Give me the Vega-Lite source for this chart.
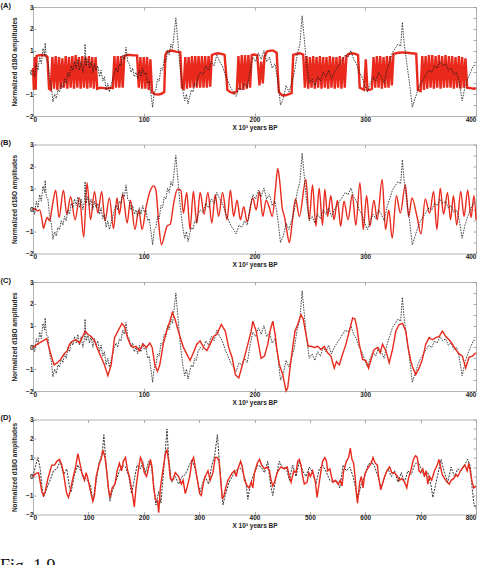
{
  "$schema": "https://vega.github.io/schema/vega-lite/v6.json",
  "padding": {"left": 0, "top": 1, "right": 8, "bottom": 0},
  "config": {
    "font": "Liberation Sans",
    "view": {"stroke": "#b4b4b4", "strokeWidth": 1},
    "axis": {
      "labelFont": "Liberation Sans", "labelFontSize": 6.5, "labelFontWeight": "bold", "labelColor": "#222",
      "titleFont": "Liberation Sans", "titleFontSize": 6.5, "titleFontWeight": "bold", "titleColor": "#222",
      "grid": false, "domain": false, "tickColor": "#999", "tickWidth": 0.8, "tickSize": -3, "labelPadding": 3
    },
    "axisBottom": {"titlePadding": 1.5},
    "axisLeft": {"titlePadding": 8.5},
    "title": {"font": "Liberation Sans", "fontSize": 7.5, "fontWeight": "bold", "anchor": "start", "frame": "bounds", "offset": -5, "dx": -10.5, "color": "#111"},
    "concat": {"spacing": 7.5}
  },
  "datasets": {
    "blk": [
      {"t":0,"v":0.1},{"t":1.5,"v":-0.2},{"t":3,"v":0.4},{"t":4.5,"v":0.1},{"t":6,"v":0.7},{"t":7.5,"v":0.4},{"t":9,"v":1.1},{"t":10.5,"v":0.8},{"t":11,"v":1.35},{"t":12,"v":0.6},{"t":13.5,"v":0.5},{"t":15,"v":-0.3},{"t":16.5,"v":-0.6},{"t":18,"v":-1.35},{"t":19.5,"v":-1.0},{"t":21,"v":-1.2},{"t":22.5,"v":-0.8},{"t":24,"v":-0.9},{"t":25.5,"v":-0.5},{"t":27,"v":-0.7},{"t":28.5,"v":-0.3},{"t":30,"v":-0.5},{"t":31.5,"v":0.0},{"t":33,"v":-0.2},{"t":34.5,"v":0.3},{"t":36,"v":0.1},{"t":37.5,"v":0.5},{"t":39,"v":0.2},{"t":40.5,"v":0.6},{"t":42,"v":0.1},{"t":43.5,"v":0.5},{"t":45,"v":0.0},{"t":46.5,"v":0.4},{"t":47,"v":1.3},{"t":48,"v":0.3},{"t":49.5,"v":0.6},{"t":51,"v":0.2},{"t":52.5,"v":0.5},{"t":54,"v":0.0},{"t":55.5,"v":0.4},{"t":57,"v":0.1},{"t":58.5,"v":0.3},{"t":60,"v":-0.2},{"t":61.5,"v":0.1},{"t":63,"v":-0.4},{"t":64.5,"v":-0.2},{"t":66,"v":-0.8},{"t":67.5,"v":-0.5},{"t":69,"v":-0.9},{"t":70.5,"v":-0.6},{"t":72,"v":-0.3},{"t":73.5,"v":0.0},{"t":75,"v":0.2},{"t":76.5,"v":0.0},{"t":78,"v":0.4},{"t":79.5,"v":0.3},{"t":81,"v":0.8},{"t":82.5,"v":0.6},{"t":84,"v":1.15},{"t":85.5,"v":0.5},{"t":87,"v":0.4},{"t":88.5,"v":0.0},{"t":90,"v":0.2},{"t":91.5,"v":-0.2},{"t":93,"v":0.0},{"t":94.5,"v":-0.3},{"t":96,"v":0.1},{"t":97.5,"v":-0.2},{"t":99,"v":0.2},{"t":100.5,"v":-0.1},{"t":102,"v":0.0},{"t":103.5,"v":-0.5},{"t":105,"v":-0.4},{"t":106.5,"v":-1.0},{"t":108,"v":-1.6},{"t":109.5,"v":-0.9},{"t":111,"v":-0.8},{"t":112.5,"v":-0.3},{"t":114,"v":-0.4},{"t":115.5,"v":0.2},{"t":117,"v":0.1},{"t":118.5,"v":0.6},{"t":120,"v":0.5},{"t":121.5,"v":1.0},{"t":123,"v":0.8},{"t":124.5,"v":1.3},{"t":126,"v":1.1},{"t":127.5,"v":1.8},{"t":129,"v":2.5},{"t":130,"v":1.9},{"t":131,"v":1.3},{"t":132.5,"v":0.4},{"t":134,"v":-0.3},{"t":135.5,"v":-0.9},{"t":137,"v":-1.3},{"t":138.5,"v":-1.0},{"t":140,"v":-1.45},{"t":141.5,"v":-1.1},{"t":143,"v":-0.8},{"t":144.5,"v":-0.9},{"t":146,"v":-0.5},{"t":147.5,"v":-0.6},{"t":149,"v":-0.2},
      {"t":151,"v":0.0},{"t":153.5,"v":-0.1},{"t":156,"v":0.3},{"t":158.5,"v":0.1},{"t":161,"v":0.5},{"t":163.5,"v":0.3},{"t":166,"v":0.8},{"t":168.5,"v":0.5},{"t":171,"v":0.3},{"t":173.5,"v":-0.1},{"t":176,"v":-0.4},{"t":178.5,"v":-0.7},{"t":181,"v":-0.9},{"t":183.5,"v":-1.1},{"t":186,"v":-0.7},{"t":188.5,"v":-0.8},{"t":191,"v":-0.5},{"t":193.5,"v":-0.7},{"t":196,"v":0.1},{"t":198.5,"v":0.7},{"t":201,"v":0.5},{"t":203.5,"v":0.9},{"t":206,"v":0.6},{"t":208.5,"v":1.0},{"t":211,"v":0.5},{"t":213.5,"v":0.7},{"t":216,"v":0.2},{"t":218.5,"v":0.4},{"t":221,"v":-0.4},{"t":223.5,"v":-1.5},{"t":226,"v":-1.2},{"t":228.5,"v":-0.6},{"t":231,"v":-0.9},{"t":233.5,"v":-0.5},{"t":236,"v":0.0},{"t":238.5,"v":0.8},{"t":241,"v":1.3},{"t":243,"v":2.6},{"t":245,"v":1.5},{"t":247,"v":0.4},{"t":249.5,"v":-0.5},{"t":252,"v":-0.3},{"t":254.5,"v":-0.6},{"t":257,"v":-0.2},{"t":259.5,"v":-0.4},{"t":262,"v":0.0},{"t":264.5,"v":-0.2},{"t":267,"v":0.1},{"t":269.5,"v":-0.3},{"t":272,"v":0.0},{"t":274.5,"v":0.2},{"t":277,"v":0.4},{"t":279.5,"v":0.6},{"t":282,"v":0.8},{"t":284.5,"v":0.7},{"t":287,"v":1.0},{"t":289.5,"v":0.6},{"t":292,"v":0.4},{"t":294.5,"v":0.0},{"t":297,"v":-0.2},{"t":299.5,"v":-0.6},{"t":302,"v":-0.9},{"t":304.5,"v":-0.5},{"t":307,"v":-0.2},{"t":309.5,"v":-0.4},{"t":312,"v":0.0},{"t":314.5,"v":-0.2},{"t":317,"v":-0.5},{"t":319.5,"v":0.1},{"t":322,"v":0.5},{"t":324.5,"v":0.9},{"t":327,"v":1.1},{"t":329.5,"v":1.3},{"t":332,"v":1.2},{"t":333.5,"v":2.3},{"t":335,"v":1.4},{"t":337.5,"v":0.4},{"t":340,"v":-0.5},{"t":342.5,"v":-1.6},{"t":345,"v":-1.2},{"t":347.5,"v":-0.8},{"t":350,"v":-0.5},{"t":352.5,"v":-0.3},{"t":355,"v":-0.1},{"t":357.5,"v":0.1},{"t":360,"v":0.0},{"t":362.5,"v":0.3},{"t":365,"v":0.2},{"t":367.5,"v":0.5},{"t":370,"v":0.3},{"t":372.5,"v":0.4},{"t":375,"v":0.1},{"t":377.5,"v":0.2},{"t":380,"v":-0.1},{"t":382.5,"v":0.0},{"t":385,"v":-0.5},{"t":387.5,"v":-1.3},{"t":390,"v":-0.7},{"t":392.5,"v":-0.3},{"t":395,"v":0.0},{"t":397.5,"v":0.3},{"t":400,"v":0.35}
    ],
    "redA": [
      {"t":0,"v":0.2},{"t":0.8,"v":-0.8},{"t":1.6,"v":0.7},{"t":2.4,"v":-0.8},{"t":3.2,"v":0.75},{"t":5,"v":0.78},{"t":8,"v":0.8},{"t":11,"v":0.78},{"t":13,"v":0.72},{"t":14.5,"v":-0.75},
      {"t":16,"v":-0.8},{"t":17.5,"v":0.7},{"t":19,"v":-0.75},{"t":20.5,"v":0.75},{"t":22,"v":-0.8},{"t":23.5,"v":0.7},{"t":25,"v":-0.75},{"t":26.5,"v":0.65},{"t":28,"v":-0.7},{"t":29.5,"v":0.75},{"t":31,"v":-0.75},{"t":32.5,"v":0.7},{"t":34,"v":-0.7},{"t":35.5,"v":0.75},{"t":37,"v":-0.75},{"t":38.5,"v":0.8},{"t":40,"v":-0.7},{"t":41.5,"v":0.7},{"t":43,"v":-0.75},{"t":44.5,"v":0.75},{"t":46,"v":-0.7},{"t":47.5,"v":0.7},{"t":49,"v":-0.75},{"t":50.5,"v":0.75},{"t":52,"v":-0.7},{"t":53.5,"v":0.7},{"t":55,"v":-0.75},{"t":56.5,"v":0.7},{"t":58,"v":-0.75},
      {"t":61,"v":-0.7},{"t":64,"v":-0.72},{"t":67,"v":-0.75},{"t":70,"v":-0.7},{"t":72,"v":-0.72},
      {"t":73.5,"v":0.75},{"t":75,"v":-0.7},{"t":76.5,"v":0.75},{"t":78,"v":-0.7},{"t":79.5,"v":0.75},{"t":81,"v":-0.7},{"t":82.5,"v":0.75},
      {"t":85,"v":0.8},{"t":88,"v":0.8},{"t":91,"v":0.78},{"t":94,"v":0.78},
      {"t":95.5,"v":-0.7},{"t":97,"v":0.7},{"t":98.5,"v":-0.75},{"t":100,"v":0.7},{"t":101.5,"v":-0.75},{"t":103,"v":0.7},{"t":104.5,"v":-0.8},{"t":106,"v":0.6},{"t":107.5,"v":-0.9},
      {"t":110,"v":-1.0},{"t":113,"v":-1.02},{"t":116,"v":-0.98},{"t":118.5,"v":-0.9},
      {"t":119.5,"v":0.8},{"t":121,"v":0.95},{"t":125,"v":1.0},{"t":129,"v":0.95},{"t":133,"v":0.92},{"t":134.5,"v":-0.7},
      {"t":136,"v":-0.75},{"t":137.5,"v":0.7},{"t":139,"v":-0.75},{"t":140.5,"v":0.7},{"t":142,"v":-0.7},{"t":143.5,"v":0.75},{"t":145,"v":-0.7},{"t":146.5,"v":0.75},{"t":148,"v":-0.7},{"t":149.5,"v":0.75},{"t":151,"v":-0.7},{"t":152.5,"v":0.75},{"t":154,"v":-0.7},{"t":155.5,"v":0.75},{"t":157,"v":-0.7},{"t":158.5,"v":0.75},{"t":160,"v":-0.65},{"t":161.5,"v":0.8},
      {"t":164,"v":0.85},{"t":167,"v":0.88},{"t":170,"v":0.85},{"t":173,"v":0.8},{"t":175.5,"v":-0.8},{"t":178,"v":-0.9},{"t":181,"v":-0.95},{"t":184,"v":-0.88},
      {"t":185.5,"v":0.75},{"t":187,"v":-0.8},{"t":188.5,"v":0.8},{"t":190,"v":-0.8},{"t":191.5,"v":0.8},{"t":193,"v":-0.75},{"t":194.5,"v":0.8},{"t":196,"v":-0.7},
      {"t":197.5,"v":0.8},{"t":200,"v":0.82},{"t":202.5,"v":0.78},{"t":204.5,"v":-0.6},{"t":206,"v":0.5},{"t":207.5,"v":-0.5},{"t":209,"v":0.7},
      {"t":211,"v":0.95},{"t":214,"v":1.0},{"t":217,"v":1.0},{"t":220,"v":0.9},{"t":222,"v":-0.9},{"t":225,"v":-1.05},{"t":228,"v":-1.05},{"t":231,"v":-1.0},{"t":233.5,"v":-0.95},
      {"t":235,"v":0.8},{"t":238,"v":0.85},{"t":241,"v":0.88},{"t":244,"v":0.82},
      {"t":245.5,"v":-0.7},{"t":247,"v":0.75},{"t":248.5,"v":-0.75},{"t":250,"v":0.7},{"t":251.5,"v":-0.7},{"t":253,"v":0.75},{"t":254.5,"v":-0.75},{"t":256,"v":0.7},{"t":257.5,"v":-0.7},{"t":259,"v":0.75},{"t":260.5,"v":-0.75},{"t":262,"v":0.7},{"t":263.5,"v":-0.7},{"t":265,"v":0.7},{"t":266.5,"v":-0.75},{"t":268,"v":0.75},{"t":269.5,"v":-0.7},{"t":271,"v":0.7},{"t":272.5,"v":-0.75},{"t":274,"v":0.7},{"t":275.5,"v":-0.7},{"t":277,"v":0.75},{"t":278.5,"v":-0.75},{"t":280,"v":0.7},{"t":281.5,"v":-0.7},{"t":283,"v":0.75},
      {"t":285,"v":0.85},{"t":288,"v":0.88},{"t":291,"v":0.85},{"t":293.5,"v":0.8},
      {"t":295,"v":-0.7},{"t":297,"v":-0.75},{"t":299,"v":-0.8},{"t":300.5,"v":0.6},{"t":302,"v":-0.8},{"t":304,"v":-0.8},{"t":306,"v":-0.75},{"t":307.5,"v":0.7},{"t":309,"v":-0.7},{"t":310.5,"v":0.75},{"t":312,"v":-0.7},{"t":313.5,"v":0.75},{"t":315,"v":-0.75},{"t":316.5,"v":0.7},{"t":318,"v":-0.7},{"t":319.5,"v":0.75},{"t":321,"v":-0.7},{"t":322.5,"v":0.75},{"t":324,"v":-0.6},
      {"t":325.5,"v":0.85},{"t":330,"v":0.9},{"t":334,"v":0.92},{"t":338,"v":0.9},{"t":342,"v":0.88},{"t":346,"v":0.85},{"t":347.5,"v":-0.8},{"t":350,"v":-0.85},
      {"t":351.5,"v":0.75},{"t":353,"v":-0.8},{"t":354.5,"v":0.75},{"t":356,"v":-0.75},{"t":357.5,"v":0.8},{"t":359,"v":-0.7},{"t":360.5,"v":0.8},{"t":362,"v":-0.75},{"t":363.5,"v":0.75},{"t":365,"v":-0.7},{"t":366.5,"v":0.8},{"t":368,"v":-0.75},{"t":369.5,"v":0.75},{"t":371,"v":-0.7},{"t":372.5,"v":0.8},{"t":374,"v":-0.7},{"t":375.5,"v":0.75},{"t":377,"v":-0.7},{"t":378.5,"v":0.75},{"t":380,"v":-0.75},{"t":381.5,"v":0.7},{"t":383,"v":-0.7},{"t":384.5,"v":0.75},{"t":386,"v":-0.75},{"t":387.5,"v":0.7},{"t":389,"v":-0.7},{"t":390.5,"v":0.65},{"t":392,"v":-0.7},
      {"t":395,"v":-0.72},{"t":398,"v":-0.75},{"t":400,"v":-0.72}
    ],
    "redB": [
      {"t":0,"v":0.0},{"t":2,"v":0.05},{"t":4,"v":-0.05},{"t":6,"v":0.0},{"t":8,"v":-0.4},{"t":9.5,"v":-0.85},{"t":11,"v":-0.6},{"t":13,"v":-0.35},{"t":15,"v":-0.5},{"t":17.5,"v":0.2},{"t":20.5,"v":0.9},{"t":23.5,"v":-0.35},{"t":27.5,"v":0.9},{"t":30.5,"v":-0.2},{"t":34,"v":0.6},{"t":38,"v":-0.45},{"t":42,"v":0.55},{"t":45.8,"v":-1.25},{"t":48.8,"v":1.25},{"t":52,"v":-0.45},{"t":55.5,"v":0.85},{"t":58.5,"v":-0.15},{"t":62,"v":0.85},{"t":65,"v":-0.5},{"t":69,"v":0.55},{"t":72.7,"v":-0.85},{"t":75.8,"v":0.55},{"t":78,"v":-0.2},{"t":81,"v":0.7},{"t":85,"v":-0.6},{"t":88,"v":0.45},{"t":92,"v":-0.9},{"t":95.5,"v":0.0},{"t":98.5,"v":-0.9},{"t":102,"v":0.1},{"t":106,"v":0.9},{"t":109,"v":1.1},{"t":111,"v":0.9},{"t":113.5,"v":-0.6},{"t":116,"v":-1.6},{"t":118.5,"v":-1.2},{"t":121,"v":-0.75},{"t":124,"v":-0.65},{"t":127,"v":0.3},{"t":130.5,"v":0.95},{"t":133.5,"v":0.9},{"t":135.8,"v":-0.15},{"t":138.8,"v":0.8},{"t":141.8,"v":-0.9},{"t":144.8,"v":0.85},{"t":147.9,"v":-0.6},{"t":150.9,"v":0.8},{"t":154.5,"v":-0.2},{"t":157.9,"v":0.8},{"t":161.5,"v":-0.6},{"t":164.5,"v":0.7},{"t":167.6,"v":-0.3},{"t":171.2,"v":0.8},{"t":175.2,"v":-0.45},{"t":178.2,"v":0.9},{"t":181.2,"v":-0.3},{"t":184.2,"v":0.45},{"t":187.3,"v":-0.45},{"t":190.3,"v":0.15},{"t":193.3,"v":-0.55},{"t":198.5,"v":0.55},{"t":201.5,"v":0.0},{"t":204.5,"v":0.85},{"t":207.5,"v":-0.3},{"t":210.5,"v":0.45},{"t":213.5,"v":0.1},{"t":216,"v":-0.3},{"t":219,"v":1.0},{"t":221,"v":1.9},{"t":223,"v":1.2},{"t":225,"v":0.1},{"t":227,"v":-0.3},{"t":229,"v":-0.9},{"t":231.5,"v":-1.5},{"t":234,"v":-0.6},{"t":237,"v":0.5},{"t":240.5,"v":-0.3},{"t":246.4,"v":1.4},{"t":249.4,"v":-0.45},{"t":252.4,"v":1.15},{"t":255.4,"v":-0.75},{"t":258.4,"v":1.0},{"t":261.4,"v":-0.7},{"t":263.5,"v":0.95},{"t":266,"v":-0.3},{"t":268.9,"v":0.65},{"t":271.8,"v":-0.45},{"t":274.9,"v":0.45},{"t":277.8,"v":-0.75},{"t":280.8,"v":0.4},{"t":284.5,"v":-0.45},{"t":288.3,"v":0.7},{"t":291.5,"v":-0.7},{"t":295.2,"v":1.25},{"t":298.2,"v":-0.9},{"t":301.2,"v":0.65},{"t":304.2,"v":-0.75},{"t":307.8,"v":0.45},{"t":310.8,"v":-0.45},{"t":315.3,"v":1.4},{"t":318.3,"v":-0.9},{"t":321.3,"v":0.0},{"t":324.3,"v":-1.3},{"t":328.1,"v":0.65},{"t":331.7,"v":-0.15},{"t":336.2,"v":1.15},{"t":339.2,"v":-0.3},{"t":342.2,"v":0.55},{"t":346.7,"v":-0.3},{"t":350.3,"v":-1.1},{"t":354.2,"v":0.5},{"t":358.1,"v":-0.15},{"t":361.7,"v":0.85},{"t":364.7,"v":-0.9},{"t":367.7,"v":1.0},{"t":370.7,"v":-0.2},{"t":374.3,"v":0.8},{"t":377,"v":-0.45},{"t":379.6,"v":0.65},{"t":382.6,"v":-0.7},{"t":386.2,"v":0.85},{"t":389.2,"v":-0.3},{"t":392.5,"v":0.9},{"t":395.5,"v":-0.35},{"t":398.2,"v":0.65},{"t":400,"v":-0.45}
    ],
    "redC": [
      {"t":0,"v":0.0},{"t":5.5,"v":0.2},{"t":9,"v":0.3},{"t":12.4,"v":0.4},{"t":13.6,"v":0.15},{"t":16,"v":-0.3},{"t":19,"v":-0.8},{"t":22,"v":-0.7},{"t":25,"v":-0.55},{"t":28,"v":-0.3},{"t":31,"v":-0.15},{"t":33,"v":0.15},{"t":36,"v":0.3},{"t":39,"v":0.35},{"t":42,"v":0.2},{"t":45,"v":0.5},{"t":47,"v":0.75},{"t":49.5,"v":0.6},{"t":52.5,"v":0.5},{"t":55.5,"v":0.3},{"t":58.5,"v":-0.1},{"t":61.5,"v":-0.45},{"t":64.5,"v":-0.8},{"t":67.6,"v":-1.3},{"t":70.6,"v":-0.8},{"t":73.6,"v":0.45},{"t":76.7,"v":0.75},{"t":80.3,"v":1.1},{"t":82.7,"v":0.95},{"t":85,"v":0.5},{"t":87.6,"v":0.15},{"t":90.3,"v":0.0},{"t":93,"v":0.05},{"t":96,"v":-0.15},{"t":99.4,"v":0.15},{"t":102.4,"v":0.0},{"t":105.5,"v":0.2},{"t":107.6,"v":0.0},{"t":110,"v":-0.8},{"t":112.4,"v":-1.1},{"t":114.5,"v":-0.8},{"t":117.6,"v":0.15},{"t":120.6,"v":0.75},{"t":123.6,"v":1.2},{"t":125.8,"v":1.6},{"t":128.2,"v":1.3},{"t":131.2,"v":0.75},{"t":132.7,"v":0.5},{"t":135.8,"v":0.0},{"t":138.8,"v":-0.3},{"t":141.8,"v":-0.6},{"t":144.8,"v":-0.25},{"t":147.9,"v":0.15},{"t":150.9,"v":0.3},{"t":154,"v":0.0},{"t":157,"v":-0.15},{"t":160,"v":0.15},{"t":163,"v":0.5},{"t":166,"v":0.6},{"t":170,"v":1.05},{"t":173.6,"v":0.75},{"t":176.7,"v":0.0},{"t":179.7,"v":-0.45},{"t":182.7,"v":-1.25},{"t":185.8,"v":-1.4},{"t":188,"v":-1.0},{"t":192.5,"v":-0.15},{"t":197,"v":0.75},{"t":198.5,"v":1.2},{"t":201.5,"v":0.75},{"t":203.6,"v":0.15},{"t":206,"v":-0.5},{"t":209,"v":-0.4},{"t":212,"v":0.15},{"t":214,"v":0.75},{"t":216.5,"v":1.2},{"t":218.6,"v":0.6},{"t":220.4,"v":-0.15},{"t":222.5,"v":-0.8},{"t":225.5,"v":-1.25},{"t":228.5,"v":-2.0},{"t":230,"v":-1.85},{"t":232.4,"v":-0.8},{"t":234.5,"v":0.0},{"t":236.6,"v":0.75},{"t":239,"v":1.05},{"t":242,"v":1.5},{"t":244,"v":1.3},{"t":246.5,"v":0.6},{"t":248.6,"v":0.05},{"t":251,"v":0.05},{"t":254,"v":0.0},{"t":257,"v":0.05},{"t":260,"v":-0.1},{"t":263,"v":0.05},{"t":266,"v":-0.25},{"t":269,"v":-0.4},{"t":272,"v":-0.95},{"t":274,"v":-0.65},{"t":276.6,"v":-0.8},{"t":279.6,"v":-0.3},{"t":282.6,"v":0.15},{"t":285.6,"v":0.75},{"t":288.6,"v":1.35},{"t":290.7,"v":1.3},{"t":292.5,"v":0.9},{"t":294.6,"v":0.15},{"t":297.6,"v":-0.55},{"t":300.6,"v":-0.6},{"t":303,"v":-0.95},{"t":305,"v":-0.6},{"t":308,"v":-0.1},{"t":311,"v":0.0},{"t":313.5,"v":-0.25},{"t":315.6,"v":0.15},{"t":318.6,"v":-0.15},{"t":321.6,"v":-0.7},{"t":324.6,"v":-0.1},{"t":327.6,"v":0.75},{"t":330.6,"v":1.05},{"t":333.6,"v":1.1},{"t":336.6,"v":0.75},{"t":338.7,"v":0.0},{"t":341,"v":-0.6},{"t":343,"v":-0.95},{"t":345.6,"v":-1.25},{"t":348.6,"v":-0.95},{"t":351.6,"v":-0.55},{"t":354.6,"v":0.15},{"t":357.7,"v":0.45},{"t":360.7,"v":0.35},{"t":363.7,"v":0.45},{"t":366.7,"v":0.5},{"t":369.7,"v":0.75},{"t":372.7,"v":0.5},{"t":375.7,"v":0.35},{"t":378.7,"v":0.15},{"t":381.7,"v":-0.1},{"t":384.7,"v":-0.3},{"t":387.7,"v":-0.4},{"t":390.7,"v":-0.95},{"t":393.7,"v":-0.45},{"t":396.7,"v":-0.4},{"t":400,"v":-0.25}
    ],
    "blkD": [
      {"t":0,"v":0.0},{"t":4,"v":0.5},{"t":9,"v":1.0},{"t":13,"v":0.4},{"t":16,"v":-0.5},{"t":19,"v":-1.1},{"t":25,"v":-0.6},{"t":31,"v":-0.2},{"t":37,"v":0.3},{"t":43,"v":0.4},{"t":49,"v":0.8},{"t":55,"v":0.1},{"t":61,"v":0.4},{"t":66,"v":-0.6},{"t":69,"v":-0.8},{"t":75,"v":0.1},{"t":81,"v":0.6},{"t":86,"v":0.3},{"t":92,"v":0.0},{"t":98,"v":-0.2},{"t":104,"v":-0.5},{"t":108,"v":-1.3},{"t":114,"v":-0.3},{"t":119,"v":0.7},{"t":125,"v":1.2},{"t":128,"v":2.2},{"t":131,"v":1.0},{"t":136,"v":-0.6},{"t":139,"v":-1.3},{"t":143,"v":-0.8},{"t":149,"v":-0.3},{"t":155,"v":0.2},{"t":161,"v":0.6},{"t":167,"v":0.5},{"t":173,"v":0.0},{"t":178,"v":-0.9},{"t":182,"v":-0.3},{"t":188,"v":0.6},{"t":194,"v":0.4},{"t":198,"v":0.8},{"t":203,"v":0.2},{"t":209,"v":0.8},{"t":214,"v":0.5},{"t":218,"v":-0.5},{"t":222,"v":-1.5},{"t":227,"v":-0.8},{"t":231,"v":-1.4},{"t":235,"v":0.0},{"t":238,"v":1.0},{"t":242,"v":2.5},{"t":245,"v":1.0},{"t":250,"v":-0.3},{"t":257,"v":0.0},{"t":263,"v":-0.4},{"t":269,"v":0.0},{"t":275,"v":0.1},{"t":281,"v":0.5},{"t":287,"v":0.9},{"t":293,"v":0.4},{"t":299,"v":-0.5},{"t":302,"v":-0.8},{"t":307,"v":-0.3},{"t":311,"v":0.0},{"t":317,"v":-0.4},{"t":323,"v":0.6},{"t":328,"v":1.1},{"t":333,"v":2.2},{"t":336,"v":1.0},{"t":340,"v":-0.5},{"t":343,"v":-1.5},{"t":347,"v":-1.0},{"t":354,"v":-0.3},{"t":360,"v":0.0},{"t":366,"v":0.3},{"t":372,"v":0.5},{"t":378,"v":0.3},{"t":384,"v":-0.2},{"t":388,"v":-1.2},{"t":392,"v":-0.5},{"t":397,"v":0.0},{"t":406,"v":0.6},{"t":412,"v":0.5},{"t":418,"v":0.2},{"t":424,"v":0.8},{"t":427,"v":0.0},{"t":430,"v":-0.6},{"t":433,"v":-1.0},{"t":439,"v":0.0},{"t":445,"v":0.8},{"t":451,"v":0.4},{"t":457,"v":0.5},{"t":463,"v":-0.2},{"t":469,"v":0.6},{"t":475,"v":0.0},{"t":481,"v":0.8},{"t":487,"v":0.3},{"t":493,"v":0.0},{"t":499,"v":0.5},{"t":505,"v":0.2},{"t":511,"v":-0.4},{"t":517,"v":0.4},{"t":523,"v":0.6},{"t":530,"v":0.2},{"t":536,"v":-0.2},{"t":542,"v":-0.3},{"t":548,"v":-0.2},{"t":554,"v":-0.6},{"t":560,"v":0.6},{"t":566,"v":0.3},{"t":572,"v":0.5},{"t":578,"v":0.0},{"t":584,"v":-0.8},{"t":587,"v":-1.1},{"t":593,"v":-0.4},{"t":599,"v":0.0},{"t":605,"v":0.6},{"t":611,"v":0.8},{"t":617,"v":0.5},{"t":623,"v":0.0},{"t":629,"v":-0.6},{"t":635,"v":0.0},{"t":641,"v":0.4},{"t":647,"v":0.0},{"t":653,"v":0.3},{"t":659,"v":-0.3},{"t":665,"v":0.2},{"t":671,"v":-0.3},{"t":677,"v":0.3},{"t":683,"v":0.1},{"t":689,"v":0.6},{"t":695,"v":0.8},{"t":701,"v":0.4},{"t":707,"v":0.0},{"t":713,"v":0.2},{"t":719,"v":-0.5},{"t":722,"v":-1.1},{"t":728,"v":-0.3},{"t":734,"v":0.5},{"t":737,"v":0.9},{"t":743,"v":0.2},{"t":749,"v":-0.3},{"t":755,"v":0.5},{"t":761,"v":0.0},{"t":767,"v":0.4},{"t":773,"v":0.3},{"t":779,"v":0.6},{"t":785,"v":0.9},{"t":790,"v":0.5},{"t":793,"v":-0.6},{"t":796,"v":-1.4},{"t":800,"v":-1.7}
    ],
    "redD": [
      {"t":0,"v":0.0},{"t":5,"v":0.15},{"t":10,"v":0.2},{"t":13,"v":-0.3},{"t":16,"v":-0.8},{"t":19,"v":-1.0},{"t":22,"v":-0.8},{"t":27,"v":-0.1},{"t":31,"v":0.3},{"t":34,"v":0.6},{"t":39,"v":0.6},{"t":43,"v":0.8},{"t":48,"v":0.9},{"t":52,"v":0.6},{"t":55,"v":0.2},{"t":58,"v":-0.4},{"t":61,"v":-0.9},{"t":64,"v":-1.1},{"t":67,"v":-0.8},{"t":72,"v":-0.1},{"t":77,"v":0.5},{"t":81,"v":1.2},{"t":84,"v":0.8},{"t":89,"v":0.1},{"t":93,"v":-0.2},{"t":96,"v":0.2},{"t":99,"v":-0.1},{"t":104,"v":-0.8},{"t":108,"v":-1.3},{"t":111,"v":-1.0},{"t":114,"v":0.0},{"t":119,"v":0.6},{"t":123,"v":0.9},{"t":126,"v":1.4},{"t":130,"v":1.0},{"t":133,"v":0.3},{"t":136,"v":-0.6},{"t":139,"v":-1.1},{"t":143,"v":-0.6},{"t":148,"v":-0.4},{"t":152,"v":0.3},{"t":156,"v":0.7},{"t":160,"v":0.3},{"t":163,"v":0.8},{"t":167,"v":1.0},{"t":171,"v":0.3},{"t":174,"v":0.0},{"t":179,"v":-0.8},{"t":183,"v":-1.6},{"t":186,"v":-0.6},{"t":190,"v":0.3},{"t":194,"v":1.0},{"t":197,"v":0.8},{"t":201,"v":0.2},{"t":205,"v":0.0},{"t":209,"v":0.5},{"t":212,"v":0.9},{"t":215,"v":0.5},{"t":218,"v":-0.6},{"t":221,"v":-1.2},{"t":225,"v":-1.3},{"t":227,"v":-1.9},{"t":230,"v":-0.6},{"t":234,"v":0.2},{"t":239,"v":1.2},{"t":242,"v":1.4},{"t":245,"v":0.8},{"t":248,"v":-0.1},{"t":252,"v":-0.2},{"t":257,"v":0.2},{"t":263,"v":0.0},{"t":268,"v":-0.4},{"t":271,"v":-0.2},{"t":275,"v":-0.9},{"t":278,"v":-0.6},{"t":283,"v":0.0},{"t":287,"v":0.8},{"t":290,"v":1.0},{"t":293,"v":0.5},{"t":297,"v":-0.2},{"t":301,"v":-0.9},{"t":304,"v":-1.0},{"t":308,"v":-0.3},{"t":311,"v":0.0},{"t":316,"v":0.3},{"t":320,"v":-0.2},{"t":325,"v":0.2},{"t":329,"v":1.0},{"t":333,"v":1.0},{"t":336,"v":0.8},{"t":339,"v":-0.2},{"t":342,"v":-1.2},{"t":345,"v":-1.0},{"t":348,"v":-0.6},{"t":352,"v":-0.2},{"t":356,"v":0.0},{"t":360,"v":0.2},{"t":364,"v":0.3},{"t":367,"v":0.0},{"t":370,"v":0.4},{"t":375,"v":0.8},{"t":378,"v":0.5},{"t":382,"v":-0.2},{"t":387,"v":-0.5},{"t":390,"v":-0.6},{"t":394,"v":-0.3},{"t":397,"v":-0.6},{"t":400,"v":0.2},{"t":405,"v":0.7},{"t":409,"v":0.9},{"t":413,"v":0.6},{"t":418,"v":0.4},{"t":423,"v":0.5},{"t":427,"v":0.3},{"t":430,"v":-0.2},{"t":433,"v":-0.5},{"t":436,"v":-0.3},{"t":441,"v":0.2},{"t":445,"v":0.4},{"t":448,"v":0.5},{"t":454,"v":0.4},{"t":459,"v":0.5},{"t":463,"v":0.0},{"t":466,"v":-0.3},{"t":471,"v":0.3},{"t":475,"v":0.2},{"t":478,"v":0.8},{"t":481,"v":0.9},{"t":484,"v":0.6},{"t":487,"v":0.0},{"t":490,"v":-0.4},{"t":495,"v":-0.3},{"t":498,"v":0.2},{"t":501,"v":0.0},{"t":505,"v":0.3},{"t":510,"v":-0.3},{"t":513,"v":-1.1},{"t":516,"v":-0.5},{"t":520,"v":0.3},{"t":523,"v":0.8},{"t":527,"v":1.0},{"t":530,"v":0.8},{"t":532,"v":0.3},{"t":536,"v":0.4},{"t":539,"v":0.0},{"t":542,"v":-0.3},{"t":546,"v":-0.2},{"t":551,"v":-0.4},{"t":555,"v":-0.2},{"t":558,"v":-0.5},{"t":561,"v":0.3},{"t":566,"v":0.8},{"t":570,"v":1.0},{"t":573,"v":1.5},{"t":576,"v":0.9},{"t":579,"v":0.7},{"t":582,"v":-0.1},{"t":584,"v":-0.9},{"t":586,"v":-1.4},{"t":588,"v":-0.8},{"t":590,"v":-0.3},{"t":593,"v":0.0},{"t":596,"v":-0.6},{"t":599,"v":0.1},{"t":602,"v":0.3},{"t":606,"v":0.5},{"t":611,"v":0.7},{"t":614,"v":1.0},{"t":618,"v":0.7},{"t":622,"v":0.6},{"t":624,"v":0.0},{"t":628,"v":-0.7},{"t":631,"v":-0.4},{"t":635,"v":0.0},{"t":639,"v":0.3},{"t":644,"v":0.5},{"t":648,"v":0.2},{"t":653,"v":0.2},{"t":658,"v":0.0},{"t":662,"v":-0.2},{"t":666,"v":-0.1},{"t":671,"v":-0.3},{"t":675,"v":-0.6},{"t":678,"v":-0.1},{"t":683,"v":0.4},{"t":687,"v":0.9},{"t":691,"v":1.1},{"t":694,"v":1.0},{"t":697,"v":0.3},{"t":700,"v":0.2},{"t":704,"v":0.4},{"t":707,"v":0.0},{"t":710,"v":0.3},{"t":713,"v":-0.4},{"t":716,"v":0.0},{"t":720,"v":-0.2},{"t":725,"v":0.3},{"t":730,"v":0.6},{"t":733,"v":0.9},{"t":736,"v":0.5},{"t":739,"v":0.1},{"t":743,"v":-0.1},{"t":748,"v":-0.3},{"t":752,"v":-0.4},{"t":755,"v":-0.2},{"t":760,"v":-0.1},{"t":764,"v":0.1},{"t":767,"v":0.0},{"t":772,"v":0.3},{"t":777,"v":0.5},{"t":780,"v":0.6},{"t":784,"v":0.3},{"t":787,"v":0.7},{"t":790,"v":0.2},{"t":793,"v":-0.3},{"t":796,"v":-0.6},{"t":800,"v":-0.5}
    ]
  },
  "vconcat": [
    {
      "title": "(A)",
      "width": 443, "height": 109,
      "layer": [
        {
          "data": {"name": "redA"},
          "mark": {"type": "line", "color": "#e8291c", "strokeWidth": 2.4},
          "encoding": {
            "x": {"field": "t", "type": "quantitative", "scale": {"domain": [0, 400], "nice": false}, "axis": {"orient": "top", "labels": false, "title": null, "values": [0, 100, 200, 300, 400]}},
            "y": {"field": "v", "type": "quantitative", "scale": {"domain": [-2, 3], "nice": false}, "axis": {"orient": "right", "labels": false, "title": null, "values": [-2, -1.5, -1, -0.5, 0, 0.5, 1, 1.5, 2, 2.5, 3]}}
          }
        },
        {
          "data": {"name": "blk"},
          "mark": {"type": "line", "color": "#1a1a1a", "strokeWidth": 0.8, "strokeDash": [1.6, 1.1]},
          "encoding": {
            "x": {"field": "t", "type": "quantitative", "scale": {"domain": [0, 400], "nice": false}, "axis": {"orient": "bottom", "title": "X 10³ years BP", "values": [0, 100, 200, 300, 400]}},
            "y": {"field": "v", "type": "quantitative", "scale": {"domain": [-2, 3], "nice": false}, "axis": {"orient": "left", "title": "Normalized d18O amplitudes", "values": [-2, -1, 0, 1, 2, 3]}}
          }
        }
      ],
      "resolve": {"axis": {"x": "independent", "y": "independent"}}
    },
    {
      "title": "(B)",
      "width": 443, "height": 109,
      "layer": [
        {
          "data": {"name": "redB"},
          "mark": {"type": "line", "color": "#e8291c", "strokeWidth": 1.4, "interpolate": "monotone"},
          "encoding": {
            "x": {"field": "t", "type": "quantitative", "scale": {"domain": [0, 400], "nice": false}, "axis": {"orient": "top", "labels": false, "title": null, "values": [0, 100, 200, 300, 400]}},
            "y": {"field": "v", "type": "quantitative", "scale": {"domain": [-2, 3], "nice": false}, "axis": {"orient": "right", "labels": false, "title": null, "values": [-2, -1.5, -1, -0.5, 0, 0.5, 1, 1.5, 2, 2.5, 3]}}
          }
        },
        {
          "data": {"name": "blk"},
          "mark": {"type": "line", "color": "#1a1a1a", "strokeWidth": 0.8, "strokeDash": [1.6, 1.1]},
          "encoding": {
            "x": {"field": "t", "type": "quantitative", "scale": {"domain": [0, 400], "nice": false}, "axis": {"orient": "bottom", "title": "X 10³ years BP", "values": [0, 100, 200, 300, 400]}},
            "y": {"field": "v", "type": "quantitative", "scale": {"domain": [-2, 3], "nice": false}, "axis": {"orient": "left", "title": "Normalized d18O amplitudes", "values": [-2, -1, 0, 1, 2, 3]}}
          }
        }
      ],
      "resolve": {"axis": {"x": "independent", "y": "independent"}}
    },
    {
      "title": "(C)",
      "width": 443, "height": 109,
      "layer": [
        {
          "data": {"name": "blk"},
          "mark": {"type": "line", "color": "#1a1a1a", "strokeWidth": 0.8, "strokeDash": [1.6, 1.1]},
          "encoding": {
            "x": {"field": "t", "type": "quantitative", "scale": {"domain": [0, 400], "nice": false}, "axis": {"orient": "bottom", "title": "X 10³ years BP", "values": [0, 100, 200, 300, 400]}},
            "y": {"field": "v", "type": "quantitative", "scale": {"domain": [-2, 3], "nice": false}, "axis": {"orient": "left", "title": "Normalized d18O amplitudes", "values": [-2, -1, 0, 1, 2, 3]}}
          }
        },
        {
          "data": {"name": "redC"},
          "mark": {"type": "line", "color": "#e8291c", "strokeWidth": 1.4},
          "encoding": {
            "x": {"field": "t", "type": "quantitative", "scale": {"domain": [0, 400], "nice": false}, "axis": {"orient": "top", "labels": false, "title": null, "values": [0, 100, 200, 300, 400]}},
            "y": {"field": "v", "type": "quantitative", "scale": {"domain": [-2, 3], "nice": false}, "axis": {"orient": "right", "labels": false, "title": null, "values": [-2, -1.5, -1, -0.5, 0, 0.5, 1, 1.5, 2, 2.5, 3]}}
          }
        }
      ],
      "resolve": {"axis": {"x": "independent", "y": "independent"}}
    },
    {
      "title": "(D)",
      "width": 443, "height": 95,
      "layer": [
        {
          "data": {"name": "blkD"},
          "mark": {"type": "line", "color": "#1a1a1a", "strokeWidth": 0.9, "strokeDash": [2, 1.2]},
          "encoding": {
            "x": {"field": "t", "type": "quantitative", "scale": {"domain": [0, 800], "nice": false}, "axis": {"orient": "bottom", "title": "X 10³ years BP", "values": [0, 100, 200, 300, 400, 500, 600, 700, 800]}},
            "y": {"field": "v", "type": "quantitative", "scale": {"domain": [-2, 3], "nice": false}, "axis": {"orient": "left", "title": "Normalized d18O amplitudes", "values": [-2, -1, 0, 1, 2, 3]}}
          }
        },
        {
          "data": {"name": "redD"},
          "mark": {"type": "line", "color": "#e8291c", "strokeWidth": 1.4},
          "encoding": {
            "x": {"field": "t", "type": "quantitative", "scale": {"domain": [0, 800], "nice": false}, "axis": {"orient": "top", "labels": false, "title": null, "values": [0, 100, 200, 300, 400, 500, 600, 700, 800]}},
            "y": {"field": "v", "type": "quantitative", "scale": {"domain": [-2, 3], "nice": false}, "axis": {"orient": "right", "labels": false, "title": null, "values": [-2, -1.5, -1, -0.5, 0, 0.5, 1, 1.5, 2, 2.5, 3]}}
          }
        }
      ],
      "resolve": {"axis": {"x": "independent", "y": "independent"}}
    }
  ],
  "title": {"text": "Fig. 1.9", "orient": "bottom", "anchor": "start", "frame": "bounds", "font": "Liberation Serif", "fontSize": 18, "fontWeight": "normal", "color": "#111", "dx": 0, "offset": 28}
}
